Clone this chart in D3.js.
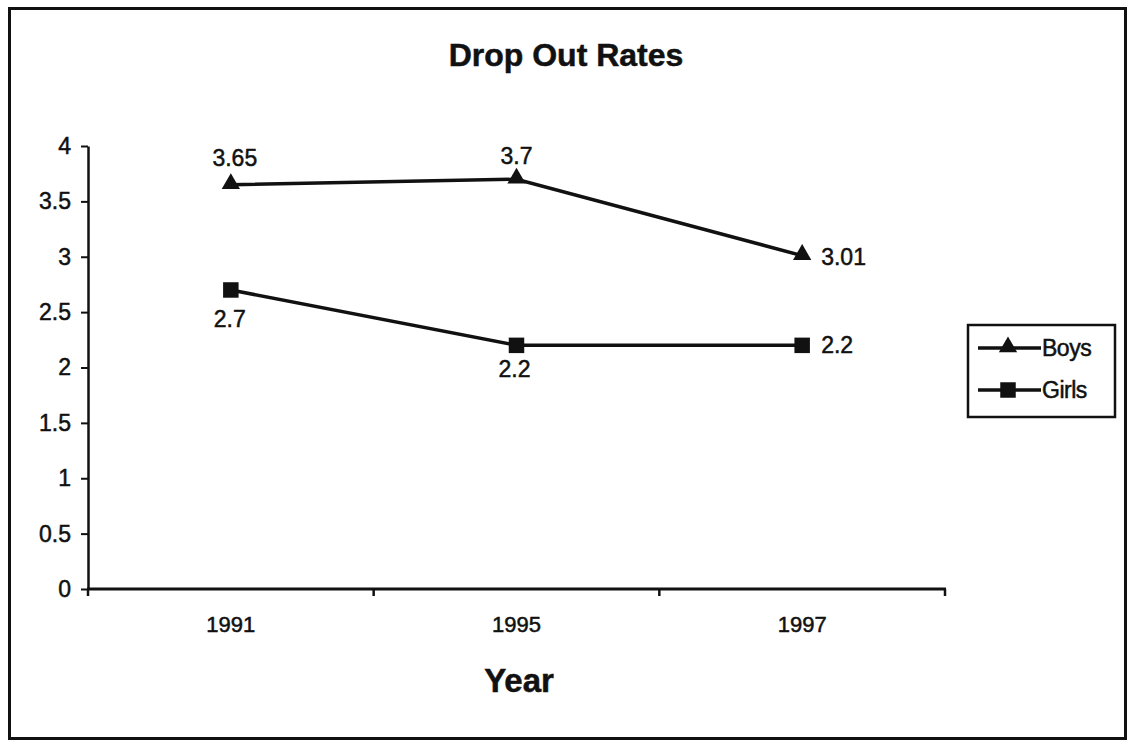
<!DOCTYPE html>
<html>
<head>
<meta charset="utf-8">
<script src="https://cdn.jsdelivr.net/npm/d3@7"></script>
<style>
  body { margin: 0; background: #fff; }
  svg { display: block; font-family: "Liberation Sans", Arial, sans-serif; }
  text { fill: #111; stroke: #111; stroke-width: 0.5px; }
</style>
</head>
<body>
<div id="grafico"></div>
<script>
// dados do gráfico
const anos = ["1991", "1995", "1997"];
const meninos = [3.65, 3.7, 3.01];
const meninas = [2.7, 2.2, 2.2];
const rotulosMeninos = ["3.65", "3.7", "3.01"];
const rotulosMeninas = ["2.7", "2.2", "2.2"];
const ticksY = [0, 0.5, 1, 1.5, 2, 2.5, 3, 3.5, 4];

const largura = 1128, altura = 741;

const svg = d3.select("#grafico").append("svg")
    .attr("width", largura)
    .attr("height", altura);

// borda externa
svg.append("rect")
    .attr("x", 9.5).attr("y", 8.5)
    .attr("width", 1116).attr("height", 730)
    .attr("fill", "white")
    .attr("stroke", "#111")
    .attr("stroke-width", 3);

// escalas
const x = d3.scaleBand().domain(anos).range([88, 945]).padding(0);
const y = d3.scaleLinear().domain([0, 4]).range([589, 146]);

// titulo
svg.append("text")
    .attr("x", 566).attr("y", 66)
    .attr("text-anchor", "middle")
    .attr("font-size", 32).attr("font-weight", "bold")
    .text("Drop Out Rates");

// eixo Y
const eixoY = svg.append("g")
    .attr("transform", "translate(88,0)")
    .call(d3.axisLeft(y).tickValues(ticksY).tickSize(7).tickSizeOuter(0).tickFormat(d3.format("")));
eixoY.select(".domain").attr("stroke", "#111").attr("stroke-width", 2.5);
eixoY.selectAll(".tick line").attr("stroke", "#111").attr("stroke-width", 2);
eixoY.selectAll(".tick text").attr("font-size", 23).attr("fill", "#111").attr("x", -17)
    .attr("font-family", "Liberation Sans, Arial, sans-serif");

// eixo X com marcas nas bordas das categorias
svg.append("line")
    .attr("x1", 87).attr("x2", 946)
    .attr("y1", y(0)).attr("y2", y(0))
    .attr("stroke", "#111").attr("stroke-width", 3);
const bordas = anos.map(a => x(a)).concat([x(anos[anos.length - 1]) + x.bandwidth()]);
svg.selectAll(".marcaX")
    .data(bordas)
    .enter().append("line")
    .attr("class", "marcaX")
    .attr("x1", d => d).attr("x2", d => d)
    .attr("y1", y(0)).attr("y2", y(0) + 7)
    .attr("stroke", "#111").attr("stroke-width", 2.5);
svg.selectAll(".rotuloX")
    .data(anos)
    .enter().append("text")
    .attr("class", "rotuloX")
    .attr("x", d => x(d) + x.bandwidth() / 2)
    .attr("y", 632)
    .attr("text-anchor", "middle")
    .attr("font-size", 22)
    .text(d => d);

// titulo do eixo X
svg.append("text")
    .attr("x", 519).attr("y", 692)
    .attr("text-anchor", "middle")
    .attr("font-size", 33).attr("font-weight", "bold")
    .text("Year");

const cx = i => x(anos[i]) + x.bandwidth() / 2;
const linha = d3.line().x((d, i) => cx(i)).y(d => y(d));

const triangulo = d3.symbol().type(d3.symbolTriangle).size(145);
const quadrado = d3.symbol().type(d3.symbolSquare).size(240);

// linhas
[meninos, meninas].forEach(serie => {
    svg.append("path")
        .datum(serie)
        .attr("fill", "none")
        .attr("stroke", "#111")
        .attr("stroke-width", 3.5)
        .attr("d", linha);
});

// marcadores
svg.selectAll(".triang")
    .data(meninos)
    .enter().append("path")
    .attr("class", "triang")
    .attr("transform", (d, i) => `translate(${cx(i)},${y(d) - 1})`)
    .attr("d", triangulo)
    .attr("fill", "#111");
svg.selectAll(".quad")
    .data(meninas)
    .enter().append("path")
    .attr("class", "quad")
    .attr("transform", (d, i) => `translate(${cx(i)},${y(d)})`)
    .attr("d", quadrado)
    .attr("fill", "#111");

// rotulos dos valores: [dx, dy, ancora]
const posMeninos = [[4, -19, "middle"], [0, -15, "middle"], [19, 9, "start"]];
const posMeninas = [[-1, 37, "middle"], [-2, 32, "middle"], [19, 8, "start"]];
svg.selectAll(".rotMeninos")
    .data(meninos)
    .enter().append("text")
    .attr("x", (d, i) => cx(i) + posMeninos[i][0])
    .attr("y", (d, i) => y(d) + posMeninos[i][1])
    .attr("text-anchor", (d, i) => posMeninos[i][2])
    .attr("font-size", 23)
    .text((d, i) => rotulosMeninos[i]);
svg.selectAll(".rotMeninas")
    .data(meninas)
    .enter().append("text")
    .attr("x", (d, i) => cx(i) + posMeninas[i][0])
    .attr("y", (d, i) => y(d) + posMeninas[i][1])
    .attr("text-anchor", (d, i) => posMeninas[i][2])
    .attr("font-size", 23)
    .text((d, i) => rotulosMeninas[i]);

// legenda
const legenda = svg.append("g").attr("transform", "translate(968,325)");
legenda.append("rect")
    .attr("x", 0).attr("y", 0)
    .attr("width", 147).attr("height", 92)
    .attr("fill", "white")
    .attr("stroke", "#111").attr("stroke-width", 2.5);
const itens = [["Boys", triangulo], ["Girls", quadrado]];
itens.forEach((item, i) => {
    const yy = 23 + i * 42;
    legenda.append("line")
        .attr("x1", 10).attr("x2", 73)
        .attr("y1", yy).attr("y2", yy)
        .attr("stroke", "#111").attr("stroke-width", 3.5);
    legenda.append("path")
        .attr("transform", `translate(40,${yy - (i === 0 ? 1 : 0)})`)
        .attr("d", item[1])
        .attr("fill", "#111");
    legenda.append("text")
        .attr("x", 74).attr("y", yy + 8)
        .attr("font-size", 23)
        .attr("letter-spacing", -0.5)
        .text(item[0]);
});
</script>
</body>
</html>
